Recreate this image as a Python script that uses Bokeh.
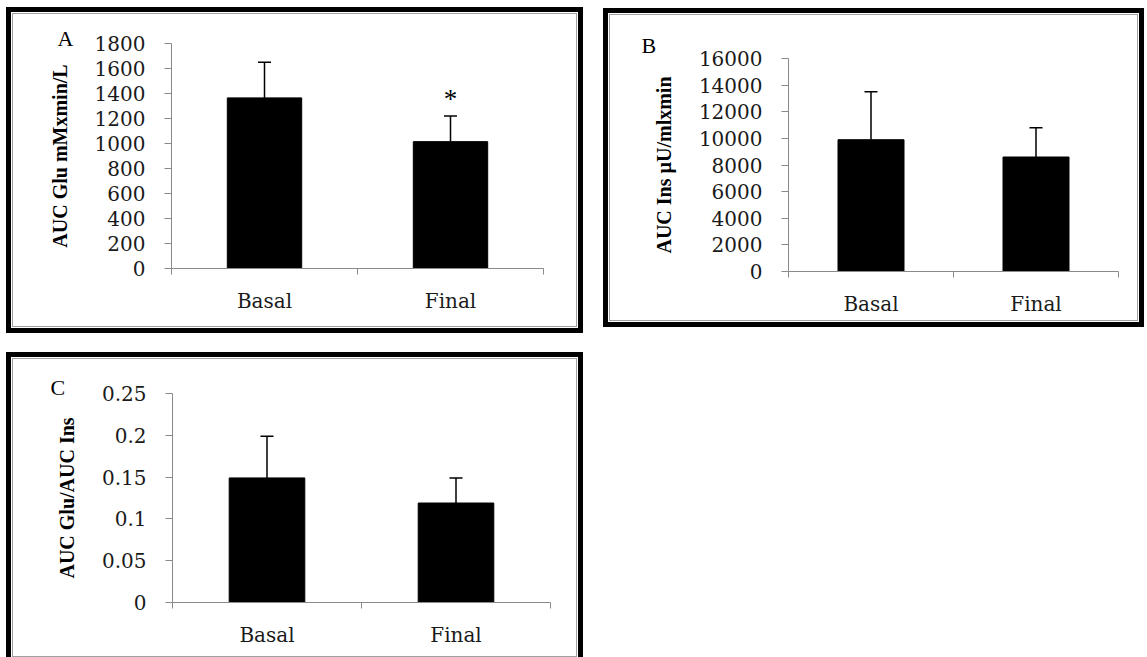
from bokeh.plotting import figure
from bokeh.models import (Range1d, FixedTicker, Whisker, TeeHead, ColumnDataSource,
                          Label, Spacer)
from bokeh.layouts import row, column
from bokeh.embed import file_html
from bokeh.resources import INLINE

# ---------------- data ----------------
categories = ["Basal", "Final"]

a_mean = [1365, 1015]
a_sd = [285, 205]
a_sig = ["", "*"]
a_ticks = [0, 200, 400, 600, 800, 1000, 1200, 1400, 1600, 1800]
a_tick_labels = ["0", "200", "400", "600", "800", "1000", "1200", "1400", "1600", "1800"]

b_mean = [9900, 8600]
b_sd = [3600, 2200]
b_sig = ["", ""]
b_ticks = [0, 2000, 4000, 6000, 8000, 10000, 12000, 14000, 16000]
b_tick_labels = ["0", "2000", "4000", "6000", "8000", "10000", "12000", "14000", "16000"]

c_mean = [0.149, 0.119]
c_sd = [0.050, 0.030]
c_sig = ["", ""]
c_ticks = [0, 0.05, 0.1, 0.15, 0.2, 0.25]
c_tick_labels = ["0", "0.05", "0.1", "0.15", "0.2", "0.25"]

AXIS_GREY = "#8a8a8a"
TICK_FONT = "DejaVu Serif"
LABEL_FONT = "Liberation Serif"


def make_panel(letter, ylabel, means, sds, sig, ticks, tick_labels,
               w, h, b_left, b_right, b_top, b_bottom, letter_offset, letter_standoff,
               letter_valign):
    x = [i + 0.5 for i in range(len(categories))]
    upper = [m + s for m, s in zip(means, sds)]
    src = ColumnDataSource(dict(x=x, top=means, upper=upper, sig=sig))

    p = figure(width=w, height=h, output_backend="svg", toolbar_location=None,
               x_range=Range1d(0, len(categories)), y_range=Range1d(ticks[0], ticks[-1]),
               min_border_left=b_left, min_border_right=b_right,
               min_border_top=b_top, min_border_bottom=b_bottom,
               styles={"outline": "5px solid black", "outline-offset": "2px",
                       "box-shadow": "0 0 0 1px #a0a0a0"})
    p.outline_line_color = None
    p.xgrid.visible = False
    p.ygrid.visible = False
    p.background_fill_color = "white"
    p.border_fill_color = "white"

    # panel letter as the (left aligned) title
    p.title.text = letter
    p.title.align = "left"
    p.title.offset = letter_offset
    p.title.standoff = letter_standoff
    p.title.vertical_align = letter_valign
    p.title.text_font = LABEL_FONT
    p.title.text_font_size = "22px"
    p.title.text_font_style = "normal"
    p.title.text_color = "black"

    p.vbar(x="x", top="top", bottom=0, width=0.4, source=src,
           fill_color="black", line_color="black")

    wh = Whisker(source=src, base="x", lower="top", upper="upper", dimension="height",
                 line_color="black", line_width=1.5,
                 upper_head=TeeHead(size=13, line_color="black", line_width=1.5),
                 lower_head=None)
    p.add_layout(wh)

    for xi, ui, s in zip(x, upper, sig):
        if s:
            p.add_layout(Label(x=xi, y=ui, text=s, text_align="center",
                               text_baseline="middle", y_offset=17,
                               text_font=LABEL_FONT, text_font_size="27px",
                               text_color="black"))

    # y axis
    ya = p.yaxis[0]
    ya.ticker = FixedTicker(ticks=ticks, minor_ticks=[])
    ya.major_label_overrides = {t: l for t, l in zip(ticks, tick_labels)}
    ya.axis_line_color = AXIS_GREY
    ya.major_tick_line_color = AXIS_GREY
    ya.major_tick_out = 7
    ya.major_tick_in = 0
    ya.minor_tick_line_color = None
    ya.major_label_standoff = 19
    ya.major_label_text_font = TICK_FONT
    ya.major_label_text_font_size = "20px"
    ya.major_label_text_color = "#1a1a1a"
    ya.axis_label = ylabel
    ya.axis_label_text_font = LABEL_FONT
    ya.axis_label_text_font_style = "bold"
    ya.axis_label_text_font_size = "20px"
    ya.axis_label_text_color = "black"
    ya.axis_label_standoff = 21

    # x axis: labels at category centres, ticks at category boundaries
    xa = p.xaxis[0]
    xa.ticker = FixedTicker(ticks=x, minor_ticks=list(range(len(categories) + 1)))
    xa.major_label_overrides = {xi: c for xi, c in zip(x, categories)}
    xa.axis_line_color = AXIS_GREY
    xa.major_tick_line_color = None
    xa.major_tick_out = 0
    xa.major_tick_in = 0
    xa.minor_tick_line_color = AXIS_GREY
    xa.minor_tick_out = 6
    xa.minor_tick_in = 0
    xa.major_label_standoff = 14
    xa.major_label_text_font = TICK_FONT
    xa.major_label_text_font_size = "20px"
    xa.major_label_text_color = "#1a1a1a"
    return p


pA = make_panel("A", "AUC Glu mMxmin/L", a_mean, a_sd, a_sig, a_ticks, a_tick_labels,
                563, 312, 158, 33, 29, 58, -114, -16, "middle")
pB = make_panel("B", "AUC Ins \u00b5U/mlxmin", b_mean, b_sd, b_sig, b_ticks, b_tick_labels,
                527, 305, 178, 19, 43, 49, -147, 1, "bottom")
pC = make_panel("C", "AUC Glu/AUC Ins", c_mean, c_sd, c_sig, c_ticks, c_tick_labels,
                563, 297, 159, 26, 34, 54, -122, -17, "top")

layout = column(
    Spacer(height=14),
    row(Spacer(width=13), pA, Spacer(width=34), column(Spacer(height=1), pB)),
    Spacer(height=33),
    row(Spacer(width=13), pC),
)

open("out.html", "w").write(file_html(layout, INLINE))
